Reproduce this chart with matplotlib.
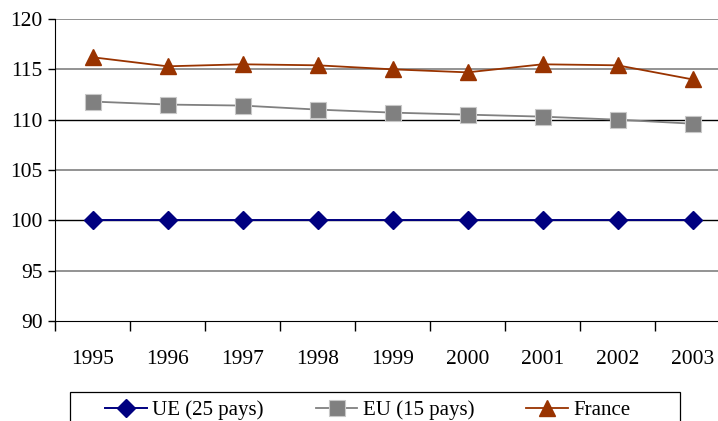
import matplotlib
matplotlib.use("Agg")
import matplotlib.pyplot as plt
from matplotlib.ticker import FixedLocator
from matplotlib.patches import Rectangle

years = ["1995", "1996", "1997", "1998", "1999", "2000", "2001", "2002", "2003"]
ue25 = [100, 100, 100, 100, 100, 100, 100, 100, 100]
eu15 = [111.8, 111.5, 111.4, 111.0, 110.7, 110.5, 110.3, 110.0, 109.6]
france = [116.2, 115.3, 115.5, 115.4, 115.0, 114.7, 115.5, 115.4, 114.0]

plt.rcParams['font.family'] = ['Liberation Serif', 'DejaVu Serif']

W, H = 718, 421
fig = plt.figure(figsize=(W / 100, H / 100), dpi=100)
# axes runs a bit past the right edge, like the cropped original
ax = fig.add_axes([55 / W, 1 - 321 / H, 675 / W, 302 / H])

x = list(range(len(years)))

for v in [95, 105, 115, 120]:
    ax.axhline(v, color="#808080", lw=1.2, zorder=1)
for v in [100, 110]:
    ax.axhline(v, color="black", lw=1.0, zorder=1)

ax.plot(x, ue25, color="#000080", marker="D", markersize=9, lw=1.4,
        label="UE (25 pays)", zorder=3)
ax.plot(x, eu15, color="#808080", marker="s", markersize=11, lw=1.3,
        markeredgecolor="#c8c8c8", markeredgewidth=0.8,
        label="EU (15 pays)", zorder=3)
ax.plot(x, france, color="#993300", marker="^", markersize=12, lw=1.3,
        label="France", zorder=3)

ax.set_xlim(-0.5, len(years) - 0.5)
ax.set_ylim(90, 120)
ax.set_yticks([90, 95, 100, 105, 110, 115, 120])
ax.set_xticks(x)
ax.set_xticklabels(years)
ax.xaxis.set_minor_locator(FixedLocator([i - 0.5 for i in range(len(years) + 1)]))
ax.tick_params(axis="x", which="major", length=0, pad=21, labelsize=15.5)
ax.tick_params(axis="x", which="minor", length=7, width=1, color="black", direction="out")
ax.tick_params(axis="y", length=5, width=1, labelsize=15.5, pad=4)

for s in ["top", "right"]:
    ax.spines[s].set_visible(False)
ax.spines["left"].set_color("black")
ax.spines["bottom"].set_color("black")

# legend frame, cut off at the bottom like the original
fig.patches.append(Rectangle((70 / W, -0.1), 610 / W, 0.1 + (H - 392) / H,
                             transform=fig.transFigure, fill=False,
                             edgecolor="black", lw=0.9))
leg = fig.legend(loc="upper left", bbox_to_anchor=(97 / W, 1 - 392 / H),
                 ncol=3, fontsize=15, frameon=False, columnspacing=2.5,
                 handlelength=2.0, borderpad=0.4, handletextpad=0.25,
                 borderaxespad=0)

fig.savefig("out.png", dpi=100)
